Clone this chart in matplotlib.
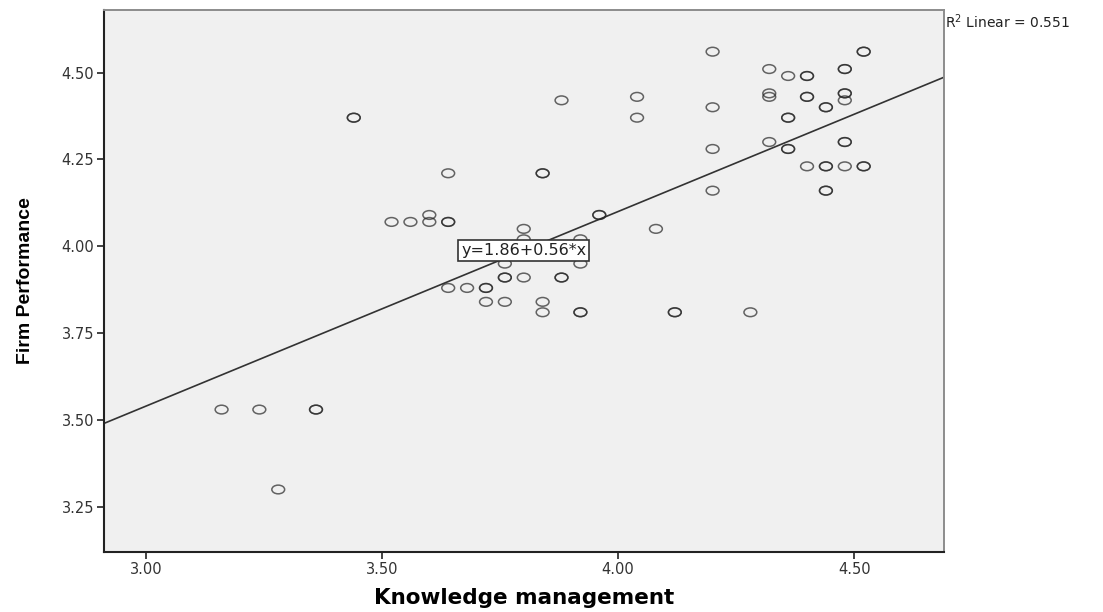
import numpy as np
import matplotlib
matplotlib.use("Agg")
import matplotlib.pyplot as plt
from matplotlib.path import Path
from matplotlib.transforms import Affine2D

# Knowledge management (x) vs Firm Performance (y); repeated pairs are cases that overlap
km = [3.16, 3.24, 3.36, 3.36, 3.28, 3.44, 3.44, 3.52, 3.56, 3.60, 3.60,
      3.64, 3.64, 3.64, 3.64, 3.68, 3.72, 3.72, 3.72, 3.76, 3.76, 3.76,
      3.76, 3.80, 3.80, 3.80, 3.84, 3.84, 3.84, 3.84, 3.88, 3.88, 3.88,
      3.92, 3.92, 3.92, 3.92, 3.96, 3.96, 4.04, 4.04, 4.08, 4.12, 4.12,
      4.20, 4.20, 4.20, 4.20, 4.28, 4.32, 4.32, 4.32, 4.32, 4.36, 4.36,
      4.36, 4.36, 4.36, 4.40, 4.40, 4.40, 4.40, 4.40, 4.44, 4.44, 4.44,
      4.44, 4.44, 4.44, 4.48, 4.48, 4.48, 4.48, 4.48, 4.48, 4.48, 4.48,
      4.52, 4.52, 4.52, 4.52]
fp = [3.53, 3.53, 3.53, 3.53, 3.30, 4.37, 4.37, 4.07, 4.07, 4.07, 4.09,
      4.07, 4.07, 4.21, 3.88, 3.88, 3.88, 3.88, 3.84, 3.84, 3.91, 3.91,
      3.95, 3.91, 4.05, 4.02, 3.84, 3.81, 4.21, 4.21, 3.91, 3.91, 4.42,
      4.02, 3.95, 3.81, 3.81, 4.09, 4.09, 4.43, 4.37, 4.05, 3.81, 3.81,
      4.56, 4.40, 4.28, 4.16, 3.81, 4.51, 4.44, 4.43, 4.30, 4.49, 4.37,
      4.37, 4.28, 4.28, 4.49, 4.49, 4.43, 4.43, 4.23, 4.40, 4.40, 4.23,
      4.23, 4.16, 4.16, 4.51, 4.51, 4.44, 4.44, 4.42, 4.30, 4.30, 4.23,
      4.56, 4.56, 4.23, 4.23]

intercept = 1.86
slope = 0.56
r2 = 0.551

x_ticks = [3.00, 3.50, 4.00, 4.50]
y_ticks = [3.25, 3.50, 3.75, 4.00, 4.25, 4.50]

fig = plt.figure(figsize=(11.03, 6.12), dpi=100)
ax = fig.add_axes([0.0943, 0.098, 0.7615, 0.8857])
ax.set_facecolor("#f0f0f0")

# SPSS draws its circles slightly squashed
oval = Path.unit_circle().transformed(Affine2D().scale(1.0, 0.68))
ax.scatter(km, fp, s=85, marker=oval, facecolors="none",
           edgecolors=(0.15, 0.15, 0.15, 0.7), linewidths=1.1, zorder=3)

ax.axline((0, intercept), slope=slope, color="#333333", lw=1.2, zorder=2)

ax.text(3.80, 3.988, f"y={intercept:.2f}+{slope:.2f}*x", fontsize=11.5,
        ha="center", va="center", color="#222222", zorder=4,
        bbox=dict(boxstyle="square,pad=0.18", fc="white", ec="#333333", lw=1.2))

ax.set_xlim(2.911, 4.69)
ax.set_ylim(3.12, 4.68)
ax.set_xticks(x_ticks)
ax.set_yticks(y_ticks)
ax.set_xticklabels([f"{t:.2f}" for t in x_ticks])
ax.set_yticklabels([f"{t:.2f}" for t in y_ticks])
ax.tick_params(length=5, width=1.2, color="#222222", labelsize=10.5,
               labelcolor="#333333", pad=2)

for side in ["left", "bottom"]:
    ax.spines[side].set_color("#222222")
    ax.spines[side].set_linewidth(1.5)
for side in ["top", "right"]:
    ax.spines[side].set_color("#8c8c8c")
    ax.spines[side].set_linewidth(1.4)

ax.set_xlabel("Knowledge management", fontsize=15.5, fontweight="bold", labelpad=8)
ax.set_ylabel("Firm Performance", fontsize=14, fontweight="bold",
              family=["Liberation Sans Narrow", "DejaVu Sans Condensed", "Liberation Sans"],
              fontstretch="condensed", labelpad=20)

fig.text(0.857, 0.965, f"R$^2$ Linear = {r2:.3f}", fontsize=10, color="#222222",
         ha="left", va="center")

fig.savefig("out.png", dpi=100)
